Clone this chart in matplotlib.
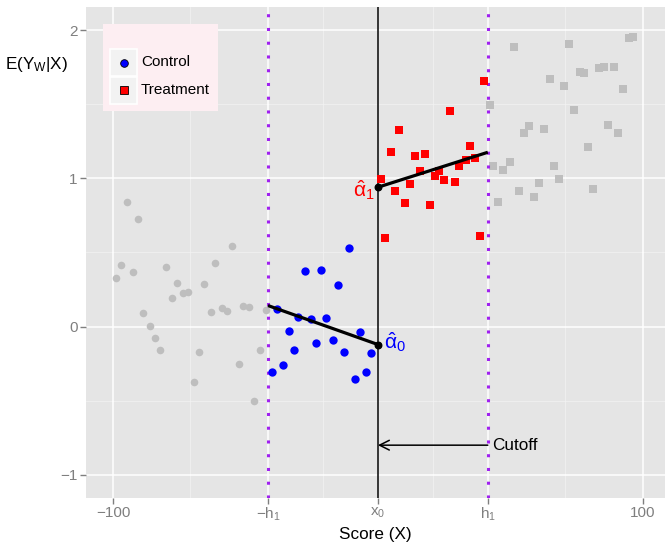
import matplotlib
matplotlib.use("Agg")
import matplotlib.pyplot as plt
from matplotlib.patches import Rectangle
import numpy as np

plt.rcParams['font.family'] = ['Liberation Sans', 'DejaVu Sans']
plt.rcParams['mathtext.fontset'] = 'custom'
plt.rcParams['mathtext.rm'] = 'Liberation Sans'
plt.rcParams['mathtext.it'] = 'Liberation Sans:italic'

# bandwidth and cutoff
h1 = 41.5
x0 = 0.0

# points outside the window (grey)
left_x = [-98.9, -97.1, -94.6, -92.5, -90.5, -88.5, -86.0, -84.2, -82.2, -79.9,
          -77.7, -76.0, -73.7, -71.7, -69.4, -67.4, -65.7, -63.0, -61.4, -59.0,
          -57.1, -54.9, -52.6, -51.1, -48.6, -46.9, -44.4, -42.4]
left_y = [0.330, 0.418, 0.843, 0.371, 0.728, 0.094, 0.003, -0.074, -0.155, 0.405,
          0.196, 0.297, 0.229, 0.236, -0.375, -0.169, 0.290, 0.101, 0.432, 0.124,
          0.108, 0.546, -0.254, 0.142, 0.135, -0.503, -0.155, 0.115]

right_x = [42.5, 43.6, 45.5, 47.4, 49.7, 51.5, 53.1, 55.3, 57.2, 59.1,
           61.0, 62.9, 64.8, 66.6, 68.5, 70.4, 72.3, 74.2, 76.3, 78.0,
           79.5, 81.4, 83.6, 85.5, 87.0, 89.3, 90.8, 92.7, 94.9, 96.4]
right_y = [1.493, 1.082, 0.839, 1.055, 1.109, 1.884, 0.913, 1.304, 1.351, 0.873,
           0.967, 1.331, 1.668, 1.082, 0.994, 1.621, 1.904, 1.459, 1.715, 1.709,
           1.210, 0.927, 1.742, 1.749, 1.358, 1.749, 1.304, 1.601, 1.945, 1.951]

# points inside the window
ctrl_x = [-40.0, -36.0, -37.9, -33.6, -31.8, -30.2, -27.4, -25.4, -23.3, -21.3,
          -19.5, -17.1, -15.1, -12.8, -10.8, -8.6, -6.8, -4.3, -2.5]
ctrl_y = [-0.309, -0.256, 0.119, -0.029, -0.155, 0.063, 0.376, 0.052, -0.110, 0.380,
          0.061, -0.092, 0.279, -0.173, 0.533, -0.351, -0.036, -0.303, -0.175]

treat_x = [1.0, 2.8, 4.9, 6.6, 8.0, 10.3, 12.1, 14.0, 15.8, 17.8, 19.6,
           21.6, 23.2, 25.1, 27.4, 29.1, 30.8, 33.1, 34.6, 36.6, 38.5, 40.2]
treat_y = [0.994, 0.598, 1.176, 0.917, 1.328, 0.834, 0.962, 1.153, 1.052, 1.165, 0.821,
           1.016, 1.050, 0.991, 1.457, 0.978, 1.084, 1.122, 1.216, 1.140, 0.614, 1.655]

# local linear fits: value at the window edge and at x0
ctrl_fit = [0.142, -0.121]    # at -h1, x0
treat_fit = [0.940, 1.176]    # at x0, h1

x_ticks = [-100, -h1, x0, h1, 100]
x_labels = ['\u2212100', r'$\mathregular{-h_1}$', r'$\mathregular{x_0}$', r'$\mathregular{h_1}$', '100']
y_ticks = [-1, 0, 1, 2]
y_labels = ['\u22121', '0', '1', '2']

fig = plt.figure(figsize=(6.65, 5.46), dpi=100)
ax = fig.add_axes([86/665, 1-497.5/546, 1-86/665, (497.5-7.3)/546])
ax.set_facecolor('#E5E5E5')
ax.set_xlim(-110.2, 108.4)
ax.set_ylim(-1.153, 2.154)

# grid
minor_x = [(x_ticks[i] + x_ticks[i+1]) / 2 for i in range(len(x_ticks)-1)]
minor_y = [-0.5, 0.5, 1.5]
for v in minor_x:
    ax.axvline(v, color='#F2F2F2', lw=0.55, zorder=0)
for v in minor_y:
    ax.axhline(v, color='#F2F2F2', lw=0.55, zorder=0)
for v in x_ticks:
    ax.axvline(v, color='white', lw=1.1, zorder=0)
for v in y_ticks:
    ax.axhline(v, color='white', lw=1.1, zorder=0)

ax.scatter(left_x, left_y, s=30, marker='o', color='#BEBEBE', linewidths=0, zorder=2)
ax.scatter(right_x, right_y, s=34, marker='s', color='#BEBEBE', linewidths=0, zorder=2)

ax.axvline(-h1, color='#A020F0', lw=2.2, linestyle=(0, (1, 3.5)), zorder=3)
ax.axvline(h1, color='#A020F0', lw=2.2, linestyle=(0, (1, 3.5)), zorder=3)
ax.axvline(x0, color='black', lw=1.1, zorder=3)

ax.scatter(ctrl_x, ctrl_y, s=36, marker='o', color='#0000FF', linewidths=0, zorder=4)
ax.scatter(treat_x, treat_y, s=30, marker='s', color='#FF0000', linewidths=0, zorder=4)

ax.plot([-h1, x0], ctrl_fit, color='black', lw=2.3, solid_capstyle='butt', zorder=5)
ax.plot([x0, h1], treat_fit, color='black', lw=2.3, solid_capstyle='butt', zorder=5)
ax.scatter([x0, x0], [ctrl_fit[1], treat_fit[0]], s=22, color='black', zorder=6)

ax.text(x0 - 1.2, treat_fit[0] - 0.02, r'$\hat{\mathrm{\alpha}}_\mathrm{1}$', color='#FF0000',
        fontsize=15, ha='right', va='center')
ax.text(x0 + 2.3, ctrl_fit[1] + 0.02, r'$\hat{\mathrm{\alpha}}_\mathrm{0}$', color='#0000FF',
        fontsize=15, ha='left', va='center')

# cutoff arrow
ax.annotate('', xy=(x0, -0.8), xytext=(h1, -0.8),
            arrowprops=dict(arrowstyle='->,head_length=0.7,head_width=0.35',
                            color='black', lw=1.1, shrinkA=0, shrinkB=0))
ax.text(h1 + 1.5, -0.8, 'Cutoff', fontsize=12.3, ha='left', va='center')

ax.set_xticks(x_ticks)
ax.set_xticklabels(x_labels)
ax.set_yticks(y_ticks)
ax.set_yticklabels(y_labels)
ax.tick_params(colors='#7F7F7F', labelcolor='#7F7F7F', labelsize=11, length=4, width=1, pad=2)
for s in ax.spines.values():
    s.set_visible(False)

ax.set_xlabel('Score (X)', fontsize=12.3, labelpad=3)
fig.text(5/665, 1-64/546, r'E(Y$_\mathregular{W}$|X)', fontsize=12.3, ha='left', va='center')

# legend drawn by hand
tr = ax.transAxes
def fx(px):
    return (px - 86) / 579.0
def fy(py):
    return (497.5 - py) / 490.2
ax.add_patch(Rectangle((fx(103), fy(111)), fx(218)-fx(103), fy(24)-fy(111), transform=tr,
                       facecolor='#FDEEF2', edgecolor='none', zorder=7))
labels = ['Control', 'Treatment']
key_colors = ['#0000FF', '#FF0000']
key_markers = ['o', 's']
for i, lab in enumerate(labels):
    top = 49 + i * 28
    ax.add_patch(Rectangle((fx(110), fy(top + 27)), fx(137)-fx(110), fy(top)-fy(top + 27), transform=tr,
                           facecolor='#F2F2F2', edgecolor='white', lw=1.2, zorder=8))
    ax.plot([fx(123.5)], [fy(top + 13.5)], marker=key_markers[i], ms=5.5, mfc=key_colors[i],
            mec='black', mew=0.6, transform=tr, zorder=9, clip_on=False)
    ax.text(fx(141), fy(top + 13.5), lab, transform=tr, fontsize=11, ha='left', va='center', zorder=9)

plt.savefig('out.png', dpi=100)
